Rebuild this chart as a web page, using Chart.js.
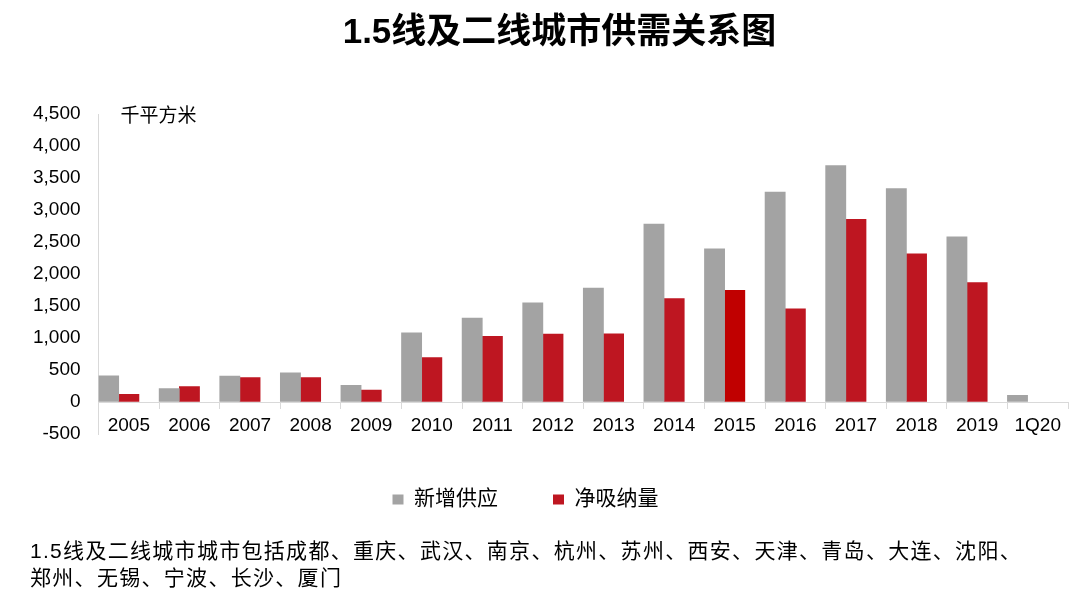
<!DOCTYPE html>
<html>
<head>
<meta charset="utf-8">
<script src="https://cdn.jsdelivr.net/npm/chart.js@4/dist/chart.umd.min.js"></script>
<style>
  html, body { margin: 0; padding: 0; background: #fff; }
  #wrap { position: relative; width: 1080px; height: 608px; }
  #note {
    position: absolute; left: 30px; top: 537px; width: 1040px;
    font-family: 'Liberation Sans', 'Noto Sans CJK SC', sans-serif;
    font-size: 21px; line-height: 27px; letter-spacing: 1.3px; color: #000;
  }
</style>
</head>
<body>
<div id="wrap">
  <canvas id="grafico" width="1080" height="608"></canvas>
  <div id="note">1.5线及二线城市城市包括成都、重庆、武汉、南京、杭州、苏州、西安、天津、青岛、大连、沈阳、<br>郑州、无锡、宁波、长沙、厦门</div>
</div>
<script>
// dados (千平方米)
const categorias = ['2005', '2006', '2007', '2008', '2009', '2010', '2011', '2012', '2013', '2014', '2015', '2016', '2017', '2018', '2019', '1Q20'];
const novaOferta = [410, 210, 405, 455, 260, 1080, 1310, 1550, 1780, 2780, 2395, 3280, 3695, 3335, 2580, 105];
const absorcao = [120, 240, 380, 380, 185, 695, 1025, 1060, 1065, 1615, 1745, 1455, 2855, 2315, 1865, null];
const serieVazia = categorias.map(() => null); // terceira série vazia (ocupa espaço no grupo)
const nomesSeries = ['新增供应', '净吸纳量'];
const eixoY = { min: -500, max: 4500, passo: 500 };
const unidade = '千平方米';

const fonte = "'Liberation Sans', 'Noto Sans CJK SC', sans-serif";

// texto da unidade no canto + pequenos deslocamentos do título e da legenda
const ajustesPlugin = {
    id: 'ajustes',
    afterLayout(chart) {
        if (chart.legend) {
            chart.legend.left -= 16;
            chart.legend.right -= 16;
        }
        if (chart.titleBlock) {
            chart.titleBlock.left += 18;
            chart.titleBlock.right += 18;
        }
    },
    afterDraw(chart) {
        const { ctx, chartArea } = chart;
        ctx.save();
        ctx.font = '19px ' + fonte;
        ctx.fillStyle = '#000';
        ctx.textBaseline = 'middle';
        ctx.fillText(unidade, chartArea.left + 22, chartArea.top + 3);
        ctx.restore();
    }
};

new Chart(document.getElementById('grafico'), {
    type: 'bar',
    data: {
        labels: categorias,
        datasets: [{
            label: nomesSeries[0],
            data: novaOferta,
            backgroundColor: '#A3A3A3'
        }, {
            label: nomesSeries[1],
            data: absorcao,
            backgroundColor: (c) => c.dataIndex === 10 ? '#C00000' : '#BE1621'
        }, {
            label: '',
            data: serieVazia,
            backgroundColor: 'rgba(0,0,0,0)'
        }]
    },
    options: {
        responsive: false,
        animation: false,
        datasets: {
            bar: { categoryPercentage: 1, barPercentage: 1 }
        },
        layout: {
            padding: { left: 15, right: 12, top: 0, bottom: 88 }
        },
        scales: {
            x: {
                position: { y: 0 },
                grid: {
                    offset: true,
                    drawOnChartArea: false,
                    drawTicks: true,
                    tickLength: 6,
                    color: '#D9D9D9'
                },
                border: { color: '#D9D9D9' },
                ticks: {
                    color: '#000',
                    padding: 6,
                    maxRotation: 0,
                    font: { family: fonte, size: 19 }
                }
            },
            y: {
                min: eixoY.min,
                max: eixoY.max,
                grid: {
                    drawOnChartArea: false,
                    drawTicks: false,
                    color: '#D9D9D9'
                },
                border: { color: '#D9D9D9' },
                ticks: {
                    stepSize: eixoY.passo,
                    color: '#000',
                    padding: 18,
                    font: { family: fonte, size: 19 }
                }
            }
        },
        plugins: {
            title: {
                display: true,
                text: '1.5线及二线城市供需关系图',
                color: '#000',
                font: { family: fonte, size: 35, weight: 'bold' },
                padding: { top: 12, bottom: 60 }
            },
            legend: {
                position: 'bottom',
                labels: {
                    color: '#000',
                    boxWidth: 11,
                    boxHeight: 10,
                    padding: 55,
                    font: { family: fonte, size: 21 },
                    filter: (item) => item.text !== ''
                }
            },
            tooltip: { enabled: false }
        }
    },
    plugins: [ajustesPlugin]
});
</script>
</body>
</html>
